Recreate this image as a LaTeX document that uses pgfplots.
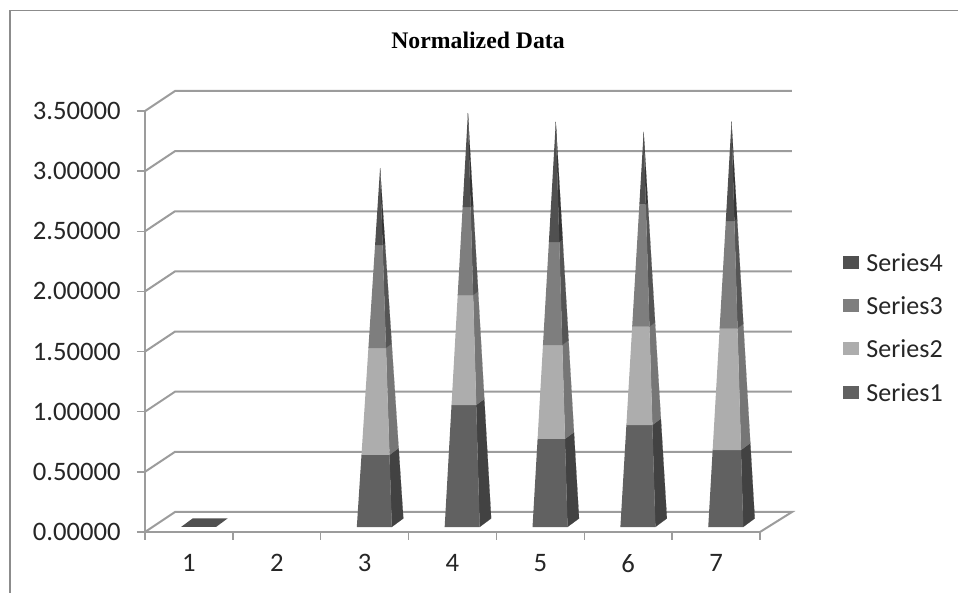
\documentclass[border=0pt]{standalone}
\usepackage{fontspec}
\setmainfont{Carlito}
\newfontfamily\titlefont{Liberation Serif}
\usepackage{pgfplots}
\pgfplotsset{compat=1.18}

\definecolor{axgray}{HTML}{9C9C9C}
\definecolor{framegray}{HTML}{8C8C8C}
\definecolor{txt}{HTML}{262626}
\definecolor{sa}{HTML}{616161}\definecolor{saside}{HTML}{424242}
\definecolor{sb}{HTML}{ADADAD}\definecolor{sbside}{HTML}{767676}
\definecolor{sc}{HTML}{7E7E7E}\definecolor{scside}{HTML}{555555}
\definecolor{sd}{HTML}{505050}\definecolor{sdside}{HTML}{353535}

% one slice of a pyramid: category, lower level, upper level, total, colours
\newcommand{\seg}[6]{%
  \pgfmathsetmacro\ta{#2/#4}\pgfmathsetmacro\tb{#3/#4}%
  \pgfmathsetmacro\xc{#1+0.110}%
  \pgfmathsetmacro\hw{0.199}\pgfmathsetmacro\dx{0.131}%
  \pgfmathsetmacro\yf{0.042}\pgfmathsetmacro\yb{0.1127}%
  \pgfmathsetmacro\yt{\yf+#4}%
  \pgfmathsetmacro\xla{\xc-\hw+\ta*(\dx/2+\hw)}\pgfmathsetmacro\xlb{\xc-\hw+\tb*(\dx/2+\hw)}%
  \pgfmathsetmacro\xra{\xc+\hw+\ta*(\dx/2-\hw)}\pgfmathsetmacro\xrb{\xc+\hw+\tb*(\dx/2-\hw)}%
  \pgfmathsetmacro\xba{\xc+\hw+\dx-\ta*(\hw+\dx/2)}\pgfmathsetmacro\xbb{\xc+\hw+\dx-\tb*(\hw+\dx/2)}%
  \pgfmathsetmacro\ya{\yf+#2}\pgfmathsetmacro\yB{\yf+#3}%
  \pgfmathsetmacro\yba{\yb+\ta*(\yt-\yb)}\pgfmathsetmacro\ybb{\yb+\tb*(\yt-\yb)}%
  \addplot[fill=#6,draw=#6,line width=0.1pt,forget plot] coordinates {(\xra,\ya) (\xba,\yba) (\xbb,\ybb) (\xrb,\yB)};
  \addplot[fill=#5,draw=#5,line width=0.1pt,forget plot] coordinates {(\xla,\ya) (\xra,\ya) (\xrb,\yB) (\xlb,\yB)};
}
% category, then the four stacked values
\newcommand{\pyramid}[5]{%
  \pgfmathsetmacro\tot{#2+#3+#4+#5}\let\Tot\tot
  \pgfmathsetmacro\la{#2}\let\La\la
  \pgfmathsetmacro\lb{#2+#3}\let\Lb\lb
  \pgfmathsetmacro\lc{#2+#3+#4}\let\Lc\lc
  \seg{#1}{0}{\La}{\Tot}{sa}{saside}
  \seg{#1}{\La}{\Lb}{\Tot}{sb}{sbside}
  \seg{#1}{\Lb}{\Lc}{\Tot}{sc}{scside}
  \seg{#1}{\Lc}{\Tot}{\Tot}{sd}{sdside}
}
\pgfplotsset{
  swatch/.style={legend image code/.code={\fill[#1] (-1.5pt,-4.5pt) rectangle (9.5pt,4.5pt);}},
}

\begin{document}
\begin{tikzpicture}
\useasboundingbox (0,0) rectangle (718.5pt,444.75pt);
\draw[framegray,line width=0.8pt] (7.5pt,0) -- (7.5pt,437pt) -- (718.5pt,437pt);
\begin{axis}[
    at={(108.75pt,45.75pt)}, anchor=south west,
    scale only axis, width=461.25pt, height=315.75pt,
    xmin=0.5, xmax=7.5, ymin=0, ymax=3.5,
    clip=false,
    axis x line=bottom, axis y line=left,
    axis line style={-,draw=axgray,line width=1.5pt},
    tick align=outside,
    major tick length=6pt, minor tick length=6pt,
    xtick={1,...,7},
    minor xtick={0.5,1.5,...,7.5},
    major x tick style={draw=none},
    minor x tick style={draw=axgray,line width=1pt},
    ytick={0,0.5,...,3.5},
    y tick style={draw=axgray,line width=1pt},
    tick label style={font=\fontsize{20pt}{21pt}\selectfont,text=txt,
      /pgf/number format/assume math mode=true},
    xticklabel style={yshift=-7pt},
    yticklabel style={xshift=-8.75pt,
      /pgf/number format/fixed,/pgf/number format/fixed zerofill,
      /pgf/number format/precision=5},
    scaled y ticks=false,
    title={\titlefont\bfseries\fontsize{17.8pt}{19pt}\selectfont Normalized Data},
    title style={at={(axis description cs:0.5415,1.164)},anchor=center,yshift=-4.5pt,text=black},
    legend style={at={(axis description cs:1.135,0.487)},anchor=west,draw=none,fill=none,
      inner sep=0pt,row sep=18.5pt,font=\fontsize{19.5pt}{20pt}\selectfont,text=txt,
      nodes={inner sep=0pt,text height=14pt,text depth=0pt}},
    legend cell align=left,
  ]
  % back wall and floor
  \addplot[axgray,line width=1.5pt,forget plot] coordinates {(0.5,0) (0.8414,0.1663) (7.864,0.1663) (7.5,0)};
  \addplot[axgray,line width=1.5pt,forget plot] coordinates {(0.5,0.5) (0.8414,0.6663) (7.864,0.6663)};
  \addplot[axgray,line width=1.5pt,forget plot] coordinates {(0.5,1) (0.8414,1.1663) (7.864,1.1663)};
  \addplot[axgray,line width=1.5pt,forget plot] coordinates {(0.5,1.5) (0.8414,1.6663) (7.864,1.6663)};
  \addplot[axgray,line width=1.5pt,forget plot] coordinates {(0.5,2) (0.8414,2.1663) (7.864,2.1663)};
  \addplot[axgray,line width=1.5pt,forget plot] coordinates {(0.5,2.5) (0.8414,2.6663) (7.864,2.6663)};
  \addplot[axgray,line width=1.5pt,forget plot] coordinates {(0.5,3) (0.8414,3.1663) (7.864,3.1663)};
  \addplot[axgray,line width=1.5pt,forget plot] coordinates {(0.5,3.5) (0.8414,3.6663) (7.864,3.6663)};
  % category 1 sits at zero, only the flat base shows
  \addplot[fill=sd,draw=none,forget plot] coordinates {(0.911,0.042) (1.309,0.042) (1.440,0.1127) (1.042,0.1127)};
  \pyramid{3}{0.599}{0.889}{0.856}{0.640}
  \pyramid{4}{1.014}{0.914}{0.732}{0.781}
  \pyramid{5}{0.732}{0.781}{0.856}{0.998}
  \pyramid{6}{0.848}{0.817}{1.017}{0.603}
  \pyramid{7}{0.640}{1.012}{0.892}{0.825}
  \addlegendimage{swatch=sd}\addlegendentry{\hspace{6pt}Series4}
  \addlegendimage{swatch=sc}\addlegendentry{\hspace{6pt}Series3}
  \addlegendimage{swatch=sb}\addlegendentry{\hspace{6pt}Series2}
  \addlegendimage{swatch=sa}\addlegendentry{\hspace{6pt}Series1}
\end{axis}
\end{tikzpicture}
\end{document}
